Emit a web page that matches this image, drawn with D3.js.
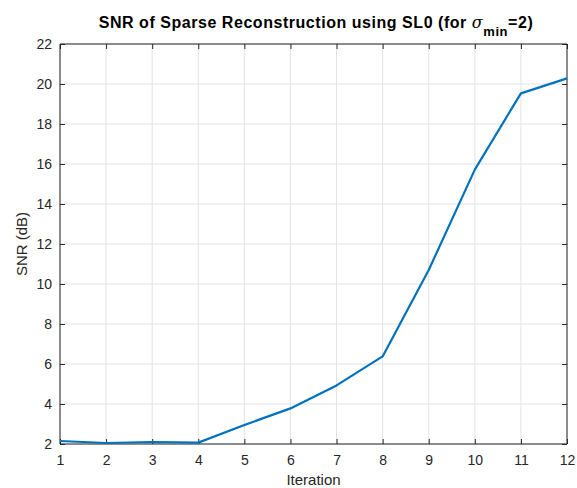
<!DOCTYPE html>
<html><head><meta charset="utf-8">
<script src="https://cdn.jsdelivr.net/npm/d3@7"></script>
<style>body{margin:0;background:#fff}svg{display:block}</style>
</head><body>
<script>
const iterations = [1,2,3,4,5,6,7,8,9,10,11,12];
const snr = [2.15,2.05,2.1,2.07,2.95,3.78,4.93,6.38,10.7,15.72,19.53,20.28];
const xTicks = [1,2,3,4,5,6,7,8,9,10,11,12];
const yTicks = [2,4,6,8,10,12,14,16,18,20,22];

const W=577,H=488, L=60,R=567,T=44,B=444;
const svg=d3.select("body").append("svg").attr("width",W).attr("height",H);
const x=d3.scaleLinear().domain([1,12]).range([L,R]);
const y=d3.scaleLinear().domain([2,22]).range([B,T]);
const font="Helvetica, 'Liberation Sans', Arial, sans-serif";
const tc="#262626";

// grid
svg.append("g").selectAll("line").data(xTicks).join("line")
 .attr("x1",d=>x(d)).attr("x2",d=>x(d)).attr("y1",T).attr("y2",B)
 .attr("stroke","#e3e3e3").attr("stroke-width",1);
svg.append("g").selectAll("line").data(yTicks).join("line")
 .attr("y1",d=>y(d)).attr("y2",d=>y(d)).attr("x1",L).attr("x2",R)
 .attr("stroke","#e3e3e3").attr("stroke-width",1);

// axes
const ax=svg.append("g").attr("transform",`translate(0,${B})`)
 .call(d3.axisBottom(x).tickValues(xTicks).tickSize(-5).tickPadding(11).tickFormat(d3.format("d")));
const ay=svg.append("g").attr("transform",`translate(${L},0)`)
 .call(d3.axisLeft(y).tickValues(yTicks).tickSize(-5).tickPadding(8).tickFormat(d3.format("d")));
const axt=svg.append("g").attr("transform",`translate(0,${T})`)
 .call(d3.axisTop(x).tickValues(xTicks).tickSize(-5).tickFormat(""));
const ayr=svg.append("g").attr("transform",`translate(${R},0)`)
 .call(d3.axisRight(y).tickValues(yTicks).tickSize(-5).tickFormat(""));
[ax,ay,axt,ayr].forEach(g=>{
  g.selectAll("path").attr("stroke",tc).attr("stroke-width",1);
  g.selectAll("line").attr("stroke",tc);
  g.selectAll("text").attr("fill",tc).style("font-family",font).style("font-size","14px");
});
ax.select(".domain").attr("d",`M${L},0H${R}`);
ay.select(".domain").attr("d",`M0,${T}V${B}`);
axt.select(".domain").attr("d",`M${L},0H${R}`);
ayr.select(".domain").attr("d",`M0,${T}V${B}`);

// line
svg.append("path").datum(iterations.map((d,i)=>[d,snr[i]]))
 .attr("fill","none").attr("stroke","#0072BD").attr("stroke-width",2.2)
 .attr("stroke-linejoin","round")
 .attr("d",d3.line().x(d=>x(d[0])).y(d=>y(d[1])));

// labels
svg.append("text").attr("x",(L+R)/2).attr("y",485).attr("text-anchor","middle")
 .attr("fill",tc).style("font-family",font).style("font-size","15px").text("Iteration");
svg.append("text").attr("transform",`translate(27,${(T+B)/2}) rotate(-90)`).attr("text-anchor","middle")
 .attr("fill",tc).style("font-family",font).style("font-size","15px").text("SNR (dB)");

const title=svg.append("text").attr("x",316).attr("y",28).attr("text-anchor","middle")
 .attr("fill","#000").style("font-family",font).style("font-size","16px").style("font-weight","bold");
title.append("tspan").text("SNR of Sparse Reconstruction using SL0 (for ");
title.append("tspan").style("font-style","italic").style("font-weight","normal").style("font-family","'DejaVu Serif', serif").text("σ");
title.append("tspan").attr("dy",8).style("font-size","13px").text("min");
title.append("tspan").attr("dy",-8).text("=2)");
// fit title to the reference width
const tw=title.node().getComputedTextLength();
title.style("letter-spacing",((434-tw)/50)+"px");
</script>
</body></html>
